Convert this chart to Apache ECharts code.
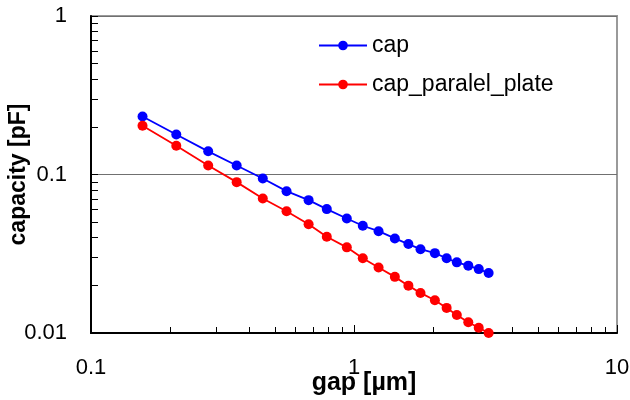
<!DOCTYPE html>
<html>
<head>
<meta charset="utf-8">
<script src="https://cdn.jsdelivr.net/npm/echarts@6/dist/echarts.min.js"></script>
<style>html,body{margin:0;padding:0;background:#fff;}#c{width:630px;height:400px;}</style>
</head>
<body>
<div id="c"></div>
<script>
const gap = [0.157, 0.211, 0.279, 0.358, 0.450, 0.554, 0.672, 0.788, 0.939, 1.08, 1.24, 1.43, 1.61, 1.79, 2.03, 2.25, 2.46, 2.72, 2.98, 3.25];
const cap = [0.232, 0.179, 0.140, 0.114, 0.0944, 0.0785, 0.0689, 0.0605, 0.0528, 0.0475, 0.0439, 0.0395, 0.0364, 0.0338, 0.0319, 0.0296, 0.0279, 0.0266, 0.0253, 0.0239];
const capParalelPlate = [0.203, 0.152, 0.114, 0.0895, 0.0706, 0.0587, 0.0486, 0.0405, 0.0347, 0.0296, 0.0259, 0.0226, 0.0199, 0.0179, 0.0161, 0.0144, 0.0130, 0.0117, 0.0108, 0.0100];
const seriesNames = ['cap', 'cap_paralel_plate'];
const xMajorTicks = [0.1, 1, 10];
const xMinorTicks = [0.2,0.3,0.4,0.5,0.6,0.7,0.8,0.9,2,3,4,5,6,7,8,9];
const yMajorTicks = [0.01, 0.1, 1];
const yMinorTicks = [0.02,0.03,0.04,0.05,0.06,0.07,0.08,0.09,0.2,0.3,0.4,0.5,0.6,0.7,0.8,0.9];

const font = 'Liberation Sans, Arial, sans-serif';
const chart = echarts.init(document.getElementById('c'));
const pairs = ys => gap.map((x, i) => [x, ys[i]]);

chart.setOption({
  animation: false,
  backgroundColor: '#fff',
  textStyle: { fontFamily: font },
  grid: { left: 91, right: 13, top: 16, bottom: 67, outerBoundsMode: 'none', containLabel: false, show: true, borderColor: '#9a9a9a', borderWidth: 2, backgroundColor: 'transparent' },
  legend: {
    orient: 'vertical', left: 313, top: 29, itemWidth: 48, itemHeight: 12, itemGap: 16,
    textStyle: { fontSize: 23, color: '#000', fontFamily: font },
    data: seriesNames
  },
  xAxis: [{
    type: 'log', min: 0.1, max: 10, logBase: 10,
    name: 'gap [µm]', nameLocation: 'middle', nameGap: 38, nameMoveOverlap: false,
    nameTextStyle: { fontSize: 25, fontWeight: 'bold', color: '#000', padding: [0, 0, 0, 20] },
    axisLine: { lineStyle: { color: '#000', width: 2 } },
    axisTick: { inside: true, length: 8, lineStyle: { color: '#000', width: 1 }, customValues: xMajorTicks },
    axisLabel: { fontSize: 22, color: '#000', margin: 24, customValues: xMajorTicks, formatter: v => String(v) },
    splitLine: { show: false }
  }, {
    type: 'log', min: 0.1, max: 10, logBase: 10, position: 'bottom', gridIndex: 0,
    axisLine: { show: false },
    axisTick: { inside: true, length: 6, lineStyle: { color: '#000', width: 1 }, customValues: xMinorTicks },
    axisLabel: { show: false },
    splitLine: { show: false }
  }],
  yAxis: [{
    type: 'log', min: 0.01, max: 1, logBase: 10,
    name: 'capacity [pF]', nameLocation: 'middle', nameGap: 61, nameRotate: 90, nameMoveOverlap: false,
    nameTextStyle: { fontSize: 23, fontWeight: 'bold', color: '#000' },
    axisLine: { lineStyle: { color: '#000', width: 2 } },
    axisTick: { inside: true, length: 7, lineStyle: { color: '#000', width: 1 }, customValues: yMajorTicks },
    axisLabel: { fontSize: 22, color: '#000', margin: 24, customValues: yMajorTicks, formatter: v => String(v) },
    splitLine: { show: true, lineStyle: { color: '#707070', width: 1 } }
  }, {
    type: 'log', min: 0.01, max: 1, logBase: 10, position: 'left', offset: 0,
    axisLine: { show: false },
    axisTick: { inside: true, length: 7, lineStyle: { color: '#000', width: 1 }, customValues: yMinorTicks },
    axisLabel: { show: false },
    splitLine: { show: false }
  }],
  series: [{
    name: seriesNames[0], type: 'line', data: pairs(cap),
    symbol: 'circle', symbolSize: 10, color: '#0000ff',
    lineStyle: { width: 1.8, color: '#0000ff' }, itemStyle: { color: '#0000ff' }
  }, {
    name: seriesNames[1], type: 'line', data: pairs(capParalelPlate),
    symbol: 'circle', symbolSize: 10, color: '#ff0000',
    lineStyle: { width: 1.8, color: '#ff0000' }, itemStyle: { color: '#ff0000' }
  }]
});
</script>
</body>
</html>
